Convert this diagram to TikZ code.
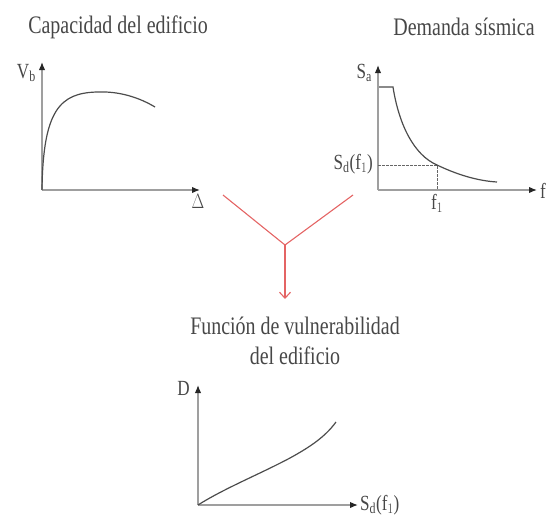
\documentclass[tikz,border=0pt]{standalone}
\usepackage{fontspec}
\setmainfont{Liberation Serif}
\usetikzlibrary{arrows.meta, positioning, calc}

\newcommand{\tallText}[1]{\scalebox{0.95}[1.2]{#1}}

\begin{document}
\begin{tikzpicture}[
        x=1pt, y=-1pt,
        every node/.style={text=black!72, inner sep=1pt},
        title/.style={font=\fontsize{21}{30}\selectfont, align=center},
        axlabel/.style={font=\fontsize{18}{20}\selectfont},
        axis/.style={draw=gray!75, line width=1.4pt, -{Latex[black!85, length=8pt, width=6.5pt]}},
        curve/.style={draw=black!70, line width=1.2pt},
        guide/.style={draw=black!60, line width=0.9pt, dash pattern=on 2.5pt off 1.5pt},
        branch/.style={draw={rgb,255:red,228;green,100;blue,100}, line width=1.1pt}
    ]
        \useasboundingbox (0,0) rectangle (547,522);

        % capacidad del edificio
        \node[title] (captitle) at (118,27) {\tallText{Capacidad del edificio}};
        \coordinate (capO) at (42,190);
        \coordinate (capY) at (42,62);
        \coordinate (capX) at (200,190);
        \draw[axis] (capO) -- (capY);
        \draw[axis] (capO) -- (capX);
        \node[axlabel, anchor=east] (vb) at (37,73) {\tallText{V$_{\mathrm{b}}$}};
        \node[axlabel, anchor=north] (delta) at (198,193) {\tallText{$\Delta$}};
        \draw[curve] (capO) .. controls (43,110) and (60,93) .. (97,92)
            .. controls (120,91) and (140,98) .. (155,107);

        % demanda sismica
        \node[title] (demtitle) at (464,27) {\tallText{Demanda sísmica}};
        \coordinate (demO) at (378,190);
        \coordinate (demY) at (378,65);
        \coordinate (demX) at (537,190);
        \coordinate (demP) at (437,165);
        \draw[axis] (demO) -- (demY);
        \draw[axis] (demO) -- (demX);
        \node[axlabel, anchor=east] (sa) at (373,73) {\tallText{S$_{\mathrm{a}}$}};
        \node[axlabel, anchor=east] (sdf) at (374,164) {\tallText{S$_{\mathrm{d}}$(f$_{1}$)}};
        \node[axlabel, anchor=north] (fone) at (437,193) {\tallText{f$_{1}$}};
        \node[axlabel, anchor=west] (fax) at (539,191) {\tallText{f}};
        \draw[guide] (demO |- demP) -- (demP) -- (demP |- demO);
        \draw[curve] (379,87) -- (393,87) .. controls (399,125) and (414,155) .. (demP)
            .. controls (460,176) and (480,181) .. (497,182);

        % union
        \coordinate (armL) at (223,195);
        \coordinate (armR) at (353,195);
        \coordinate (fork) at (285,245);
        \coordinate (forkEnd) at (285,299);
        \draw[branch] (armL) -- (fork);
        \draw[branch] (armR) -- (fork);
        \draw[branch, -{Straight Barb[length=6pt, width=11pt]}] (fork) -- (forkEnd);

        % funcion de vulnerabilidad
        \node[title] (vultitle) at (295,341) {\tallText{Función de vulnerabilidad}\\\tallText{del edificio}};
        \coordinate (vulO) at (198,505);
        \coordinate (vulY) at (198,385);
        \coordinate (vulX) at (358,505);
        \draw[axis] (vulO) -- (vulY);
        \draw[axis] (vulO) -- (vulX);
        \node[axlabel, anchor=east] (dlab) at (191,388) {\tallText{D}};
        \node[axlabel, anchor=west] (sdfb) at (359,505) {\tallText{S$_{\mathrm{d}}$(f$_{1}$)}};
        \draw[curve] (vulO) .. controls (225,488) and (260,474) .. (290,458)
            .. controls (310,447) and (325,437) .. (336,422);
    \end{tikzpicture}
\end{document}
